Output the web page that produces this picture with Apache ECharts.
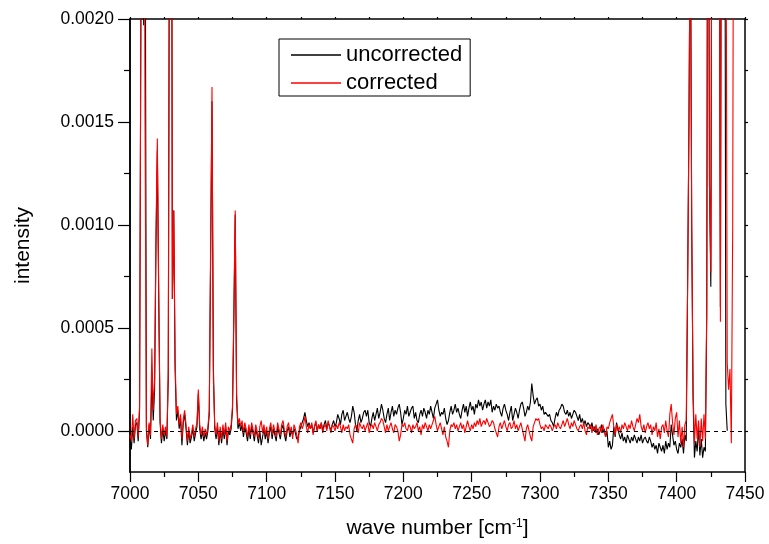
<!DOCTYPE html>
<html><head><meta charset="utf-8">
<script src="https://cdn.jsdelivr.net/npm/echarts@6/dist/echarts.min.js"></script>
<style>html,body{margin:0;padding:0;background:#fff}#c{width:769px;height:544px}</style>
</head><body><div id="c"></div>
<script>
// wave-number grid of both spectra: start 7000 cm-1, 1 cm-1 per sample
var WN_START = 7000;
var WN_STEP = 1;
// intensities in units of 1e-5
var uncorrected = [
-3,-9,2,-6,3,4,-5,10,210,500,
197,300,0,-8,3,-4,25,5,20,90,
136,65,4,-6,1,-5,0,-4,25,300,
500,64,107,30,5,10,1,6,-7,4,
8,1,-7,0,-6,-3,1,-5,-1,2,
18,1,-4,0,-5,-1,-4,0,8,85,
160,31,1,-4,2,-7,0,-6,1,-4,
2,-7,0,-2,1,10,55,105,15,1,
4,0,3,-3,2,-1,-5,1,-4,2,
-1,-5,1,-2,-6,0,-7,-3,1,-4,
0,-6,-1,2,-4,1,-2,-5,2,-1,
-4,1,3,-2,-5,0,2,-3,0,-2,
1,-1,-4,-3,0,2,4,6,9,5,
2,4,1,3,-1,2,4,0,3,1,
4,0,3,5,1,4,2,0,3,5,
2,4,8,6,3,8,10,5,7,9,
6,4,7,12,9,3,0,5,8,4,
6,9,10,7,10,4,2,6,9,5,
8,11,6,9,13,10,6,4,8,11,
5,9,12,7,10,8,11,13,9,3,
6,10,8,12,7,9,11,12,6,9,
5,4,8,10,7,11,9,6,10,8,
12,9,6,11,13,15,10,7,9,8,
11,6,3,5,9,12,8,10,13,9,
11,8,6,10,13,9,12,7,11,14,
10,12,8,13,11,15,12,14,10,13,
15,11,14,12,15,9,12,10,13,11,
12,9,7,11,13,10,8,5,9,12,
5,8,11,9,6,10,13,14,11,7,
9,12,10,14,23,17,13,15,16,12,
13,10,12,8,9,8,7,8,5,4,
2,6,9,7,10,11,13,12,9,8,
10,7,9,6,8,10,9,7,5,8,
4,6,3,5,2,4,3,1,4,0,
2,-1,1,-2,0,3,-1,1,-3,0,
-8,-5,-9,-7,2,-3,4,1,-2,-4,
-1,-5,-3,-6,-2,-4,-6,-3,-5,-2,
-4,-6,-3,-5,-2,-6,-4,-3,-5,-6,
-3,-5,-8,-6,-9,-7,-11,-6,-8,-10,
-7,-11,-5,-9,-6,-8,3,-2,-7,-5,
-9,-11,-6,-8,-4,-11,-2,-5,70,150,
260,100,16,-13,-5,-10,2,-12,-4,-13,
-8,-10,55,400,120,70,350,600,400,300,
250,300,60,400,500,400,13,0
];
var corrected = [
-2,-5,8,-4,5,6,-3,12,210,500,
400,150,2,-7,4,-2,40,10,25,95,
142,70,6,-4,3,-2,2,-3,30,300,
500,64,107,35,8,12,3,8,-4,6,
10,3,-5,2,-4,-1,3,-3,1,4,
20,3,-2,2,-3,1,-2,2,10,90,
167,25,3,-2,4,-5,2,-4,3,-2,
4,-5,2,0,3,12,60,107,18,3,
6,2,5,-1,4,1,-3,3,-2,4,
1,-3,3,0,-4,2,5,-1,3,-2,
2,-4,1,4,-2,3,0,-3,4,1,
-2,3,5,0,-3,2,4,-1,2,-4,
3,1,-2,-6,2,4,1,3,7,2,
-1,3,1,4,-2,2,5,0,3,1,
4,-1,2,3,0,5,2,-1,3,2,
0,3,1,4,2,-1,3,0,2,1,
3,-2,-4,-6,1,3,2,-1,4,2,
1,3,0,2,4,-1,2,3,1,4,
2,0,3,4,6,5,2,-1,3,0,
2,4,1,-1,3,2,0,-5,-2,3,
2,4,1,0,3,2,-1,3,1,2,
4,0,2,-2,3,1,4,2,0,3,
1,3,5,7,3,0,2,4,1,-2,
2,-3,-5,-8,0,3,2,4,1,3,
0,2,4,1,3,-1,2,5,2,0,
3,1,4,2,5,3,6,2,4,5,
3,6,4,2,3,5,4,1,-1,-3,
2,4,1,3,5,2,0,3,4,1,
2,5,1,3,0,2,4,1,-2,-5,
1,3,0,-3,-5,2,4,6,5,6,
3,1,2,0,3,2,1,3,2,0,
2,3,1,4,2,1,3,5,2,4,
6,3,1,4,2,5,3,1,0,2,
3,1,4,0,-2,2,1,3,-1,2,
0,3,-2,1,2,-1,3,0,-3,2,
1,4,6,8,2,-2,3,0,2,-1,
3,1,4,2,0,3,1,5,2,0,
3,6,4,8,2,0,3,-1,2,4,
1,3,-2,2,0,4,-3,1,-4,2,
3,-1,5,0,-3,8,13,4,-2,6,
9,-3,5,-6,2,-8,3,5,70,150,
260,100,20,-6,8,-4,5,-8,6,-5,
8,-4,60,400,120,77,350,600,400,300,
250,300,53,400,500,400,300,33,20,30,
-6,100,400
];
var UNIT = 1e-5;
var xTicks = [7000,7050,7100,7150,7200,7250,7300,7350,7400,7450];
var yLabelValues = [0, 0.0005, 0.001, 0.0015, 0.002];
var yMinorValues = [-0.00025, 0.00025, 0.00075, 0.00125, 0.00175];
var legendNames = ['uncorrected', 'corrected'];

function toPairs(arr){ return arr.map(function(v,i){ return [WN_START + i*WN_STEP, v*UNIT]; }); }

var FONT = 'Liberation Sans';
var chart = echarts.init(document.getElementById('c'), null, {renderer:'canvas'});
function axisLine(){ return {show:true, onZero:false, lineStyle:{color:'#000', width:1.5}}; }
var option = {
  animation:false,
  backgroundColor:'#fff',
  textStyle:{fontFamily:FONT},
  grid:{left:130, right:24, top:19, bottom:72, containLabel:false, outerBoundsMode:'none'},
  legend:{
    data:legendNames, orient:'vertical', left:279, top:39,
    padding:[5,8,2,12], itemGap:6, itemWidth:50, itemHeight:1.3, icon:'rect',
    borderColor:'#000', borderWidth:1, backgroundColor:'#fff',
    textStyle:{fontFamily:FONT, fontSize:22, color:'#000', lineHeight:21}
  },
  xAxis:[{
    type:'value', min:7000, max:7450, interval:50, position:'bottom',
    axisLine:axisLine(),
    axisTick:{show:true, inside:false, length:10, lineStyle:{color:'#000', width:1.2}},
    minorTick:{show:true, splitNumber:2, length:5, lineStyle:{color:'#000', width:1.2}},
    splitLine:{show:false},
    axisLabel:{show:true, margin:13, fontSize:17.5, color:'#000', fontFamily:FONT,
      customValues:xTicks, formatter:function(v){return String(v);}},
    name:'wave number [cm{sup|-1}]', nameLocation:'middle', nameGap:46,
    nameTextStyle:{fontFamily:FONT, fontSize:21, color:'#000',
      rich:{sup:{fontFamily:FONT, fontSize:12, color:'#000', verticalAlign:'top', lineHeight:12, padding:[0,0,12,0]}}}
  },{
    type:'value', min:7000, max:7450, interval:25, position:'top',
    axisLine:axisLine(),
    axisTick:{show:true, inside:false, length:2, lineStyle:{color:'#000', width:1.2}},
    axisLabel:{show:false}, splitLine:{show:false}
  }],
  yAxis:[{
    type:'value', min:-0.0002, max:0.002, position:'left',
    axisLine:axisLine(),
    axisTick:{show:true, inside:false, length:12, customValues:yLabelValues, lineStyle:{color:'#000', width:1.2}},
    axisLabel:{show:true, margin:16, fontSize:17.5, color:'#000', fontFamily:FONT,
      customValues:yLabelValues, formatter:function(v){return v.toFixed(4);}},
    splitLine:{show:false},
    name:'intensity', nameLocation:'middle', nameGap:96, nameRotate:90,
    nameTextStyle:{fontFamily:FONT, fontSize:21, color:'#000'}
  },{
    type:'value', min:-0.0002, max:0.002, position:'left',
    axisLine:axisLine(),
    axisTick:{show:true, inside:false, length:6, customValues:yMinorValues, lineStyle:{color:'#000', width:1.2}},
    axisLabel:{show:false}, splitLine:{show:false}
  },{
    type:'value', min:-0.0002, max:0.002, position:'right',
    axisLine:axisLine(),
    axisTick:{show:true, inside:false, length:3, customValues:yLabelValues.concat(yMinorValues.slice(1)), lineStyle:{color:'#000', width:1.2}},
    axisLabel:{show:false}, splitLine:{show:false}
  }],
  series:[{
    name:legendNames[0], type:'line', xAxisIndex:0, yAxisIndex:0,
    data:toPairs(uncorrected), symbol:'none', showSymbol:false,
    lineStyle:{color:'#000', width:1.1}, itemStyle:{color:'#000'}, clip:true, z:2
  },{
    name:legendNames[1], type:'line', xAxisIndex:0, yAxisIndex:0,
    data:toPairs(corrected), symbol:'none', showSymbol:false,
    lineStyle:{color:'#ff0000', width:1.1}, itemStyle:{color:'#ff0000'}, clip:true, z:3,
    markLine:{silent:true, symbol:'none', label:{show:false}, z:5,
      lineStyle:{color:'#000', type:[4,4], width:1}, data:[{yAxis:0}]}
  }]
};
chart.setOption(option);
</script></body></html>
